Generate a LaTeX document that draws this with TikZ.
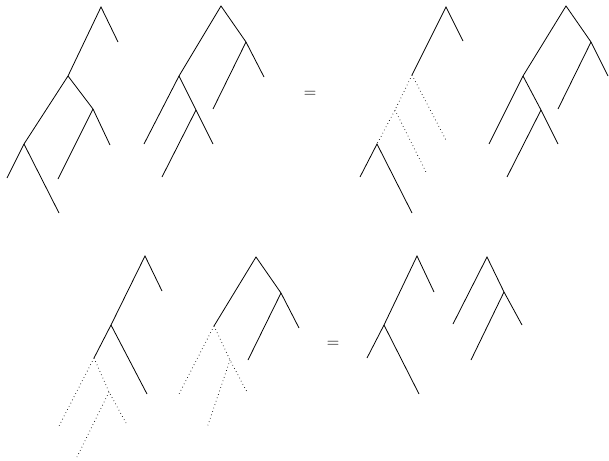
\documentclass[tikz,border=0pt]{standalone}
\begin{document}
\begin{tikzpicture}[x=1pt,y=-1pt,
  edge/.style={line width=0.8pt},
  dotedge/.style={line width=0.8pt,dash pattern=on 0.6pt off 3pt},
  eqsign/.style={inner sep=0pt,font=\fontsize{19}{20}\selectfont}]
\useasboundingbox (0,0) rectangle (609,460);
% tree 1
\coordinate (a1) at (101,7); \coordinate (a1r) at (118,42);
\coordinate (b1) at (68,76); \coordinate (c1) at (93,109);
\coordinate (c1r) at (110,145); \coordinate (c1l) at (58,179);
\coordinate (d1) at (24,144); \coordinate (d1l) at (7,178); \coordinate (d1r) at (59,213);
\draw[edge] (a1r) -- (a1) -- (b1) -- (d1) -- (d1l);
\draw[edge] (d1) -- (d1r);
\draw[edge] (b1) -- (c1) -- (c1r);
\draw[edge] (c1) -- (c1l);
% tree 2
\coordinate (r2) at (221,6); \coordinate (s2) at (246,42);
\coordinate (s2r) at (264,77); \coordinate (s2l) at (213,109);
\coordinate (t2) at (179,76); \coordinate (t2l) at (144,144);
\coordinate (u2) at (196,110); \coordinate (u2r) at (213,144); \coordinate (u2l) at (162,177);
\draw[edge] (s2r) -- (s2) -- (r2) -- (t2) -- (t2l);
\draw[edge] (s2) -- (s2l);
\draw[edge] (t2) -- (u2) -- (u2r);
\draw[edge] (u2) -- (u2l);
% equals top
\node[eqsign] (eq1) at (310,94) {$=$};
% tree 3
\coordinate (r3) at (446,7); \coordinate (r3r) at (463,41);
\coordinate (b3) at (412,75); \coordinate (x3) at (395,110);
\coordinate (b3r) at (447,142); \coordinate (x3r) at (427,174);
\coordinate (d3) at (377,144); \coordinate (d3l) at (360,177); \coordinate (d3r) at (412,213);
\draw[edge] (r3r) -- (r3) -- (b3);
\draw[dotedge] (b3) -- (x3) -- (d3);
\draw[dotedge] (b3) -- (b3r);
\draw[dotedge] (x3) -- (x3r);
\draw[edge] (d3l) -- (d3) -- (d3r);
% tree 4
\coordinate (r4) at (566,6); \coordinate (s4) at (591,42);
\coordinate (s4r) at (608,76); \coordinate (s4l) at (558,109);
\coordinate (t4) at (523,76); \coordinate (t4l) at (489,144);
\coordinate (u4) at (541,110); \coordinate (u4r) at (558,144); \coordinate (u4l) at (507,177);
\draw[edge] (s4r) -- (s4) -- (r4) -- (t4) -- (t4l);
\draw[edge] (s4) -- (s4l);
\draw[edge] (t4) -- (u4) -- (u4r);
\draw[edge] (u4) -- (u4l);
% tree 5
\coordinate (r5) at (145,256); \coordinate (r5r) at (162,291);
\coordinate (b5) at (111,325); \coordinate (b5r) at (147,394);
\coordinate (c5) at (94,358); \coordinate (c5l) at (59,426);
\coordinate (e5) at (109,392); \coordinate (e5r) at (126,423); \coordinate (e5l) at (77,457);
\draw[edge] (r5r) -- (r5) -- (b5) -- (c5);
\draw[edge] (b5) -- (b5r);
\draw[dotedge] (c5) -- (c5l);
\draw[dotedge] (c5) -- (e5) -- (e5r);
\draw[dotedge] (e5) -- (e5l);
% tree 6
\coordinate (r6) at (256,257); \coordinate (s6) at (281,293);
\coordinate (s6r) at (299,328); \coordinate (s6l) at (248,360);
\coordinate (t6) at (214,326); \coordinate (t6l) at (179,394);
\coordinate (u6) at (230,360); \coordinate (u6r) at (247,392); \coordinate (u6l) at (207,428);
\draw[edge] (s6r) -- (s6) -- (r6) -- (t6);
\draw[edge] (s6) -- (s6l);
\draw[dotedge] (t6) -- (t6l);
\draw[dotedge] (t6) -- (u6) -- (u6r);
\draw[dotedge] (u6) -- (u6l);
% equals bottom
\node[eqsign] (eq2) at (333,344) {$=$};
% tree 7
\coordinate (r7) at (417,256); \coordinate (r7r) at (434,292);
\coordinate (b7) at (384,325); \coordinate (b7l) at (367,358); \coordinate (b7r) at (419,394);
\draw[edge] (r7r) -- (r7) -- (b7) -- (b7l);
\draw[edge] (b7) -- (b7r);
% tree 8
\coordinate (r8) at (487,257); \coordinate (r8l) at (453,324);
\coordinate (s8) at (504,292); \coordinate (s8r) at (522,325); \coordinate (s8l) at (471,360);
\draw[edge] (r8l) -- (r8) -- (s8) -- (s8r);
\draw[edge] (s8) -- (s8l);
\end{tikzpicture}
\end{document}
